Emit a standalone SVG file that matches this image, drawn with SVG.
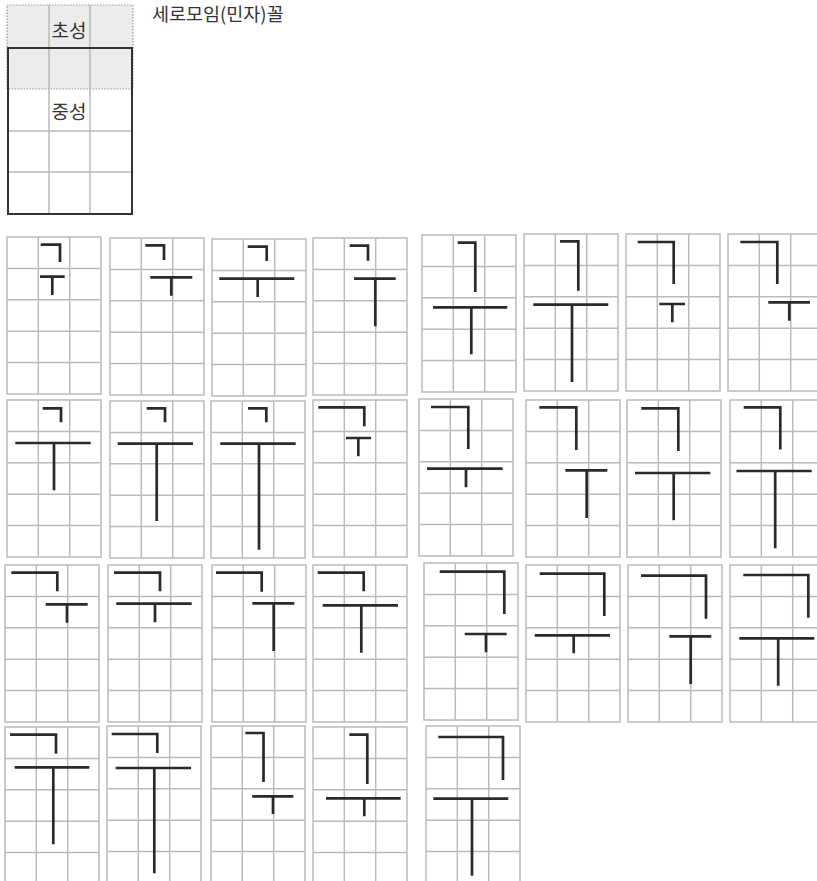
<svg xmlns="http://www.w3.org/2000/svg" xmlns:xlink="http://www.w3.org/1999/xlink" width="817" height="881" viewBox="0 0 817 881">
<style>
.txt{font-family:"Noto Sans CJK KR","Noto Sans",sans-serif;fill:#333;}
.gl{stroke:#bababa;stroke-width:1.5;fill:none;}
.st{stroke:#2a2a2a;stroke-width:2.7;fill:none;stroke-linecap:butt;stroke-linejoin:miter;}
</style>
<defs>
<g id="grid">
<rect x="0" y="0" width="94" height="157" fill="#fff" class="gl"/>
<path class="gl" d="M31.3,0V157M62.7,0V157M0,31.4H94M0,62.8H94M0,94.2H94M0,125.6H94"/>
</g>
</defs>
<rect width="817" height="881" fill="#fff"/>
<g id="legend">
<rect x="7" y="5" width="126" height="84" fill="#ececec"/>
<path class="gl" d="M49,5V214M90,5V214M8,48H132M8,131H132M8,172H132"/>
<rect x="7" y="5" width="126" height="84" fill="none" stroke="#999" stroke-width="1.2" stroke-dasharray="1.5,1.5"/>
<rect x="8" y="48" width="124" height="166" fill="none" stroke="#333" stroke-width="2"/>
<text class="txt" x="69" y="37.5" font-size="19" text-anchor="middle">초성</text>
<text class="txt" x="69" y="118.5" font-size="19" text-anchor="middle">중성</text>
</g>
<text id="title" class="txt" x="152" y="21" font-size="18.5">세로모임(민자)꼴</text>
<g id="grids">
<use xlink:href="#grid" x="7" y="237"/><use xlink:href="#grid" x="110" y="238"/><use xlink:href="#grid" x="212" y="239"/><use xlink:href="#grid" x="313" y="238"/>
<use xlink:href="#grid" x="422" y="235"/><use xlink:href="#grid" x="524" y="234"/><use xlink:href="#grid" x="626" y="234"/><use xlink:href="#grid" x="728" y="234"/>
<use xlink:href="#grid" x="7" y="400"/><use xlink:href="#grid" x="110" y="401"/><use xlink:href="#grid" x="211" y="401"/><use xlink:href="#grid" x="313" y="400"/>
<use xlink:href="#grid" x="419" y="399"/><use xlink:href="#grid" x="526" y="400"/><use xlink:href="#grid" x="627" y="400"/><use xlink:href="#grid" x="730" y="400"/>
<use xlink:href="#grid" x="5" y="565"/><use xlink:href="#grid" x="108" y="565"/><use xlink:href="#grid" x="212" y="565"/><use xlink:href="#grid" x="313" y="565"/>
<use xlink:href="#grid" x="424" y="563"/><use xlink:href="#grid" x="526" y="565"/><use xlink:href="#grid" x="628" y="565"/><use xlink:href="#grid" x="730" y="565"/>
<use xlink:href="#grid" x="5" y="727"/><use xlink:href="#grid" x="107" y="726"/><use xlink:href="#grid" x="211" y="726"/><use xlink:href="#grid" x="313" y="727"/><use xlink:href="#grid" x="426" y="726"/>
</g>
<g id="strokes">
<g id="r1c1"><path class="st" d="M40.7,244.7H60V262M40,276.7H64.7M52.3,276.7V295"/></g>
<g id="r1c2"><path class="st" d="M145.3,245.3H164V260M150.3,277.3H192.3M171.3,277.3V295.7"/></g>
<g id="r1c3"><path class="st" d="M247.7,246.7H266.7V261M219.3,278.7H294.3M257.7,278.7V297"/></g>
<g id="r1c4"><path class="st" d="M349.7,245.7H368V260.7M354,278.7H395.7M375.3,278.7V326.3"/></g>
<g id="r1c5"><path class="st" d="M457.7,242.7H475.3V292M433,307.3H507.3M471.3,307.3V354.3"/></g>
<g id="r1c6"><path class="st" d="M560,241.3H578.3V290.7M533.3,304.7H608.3M572,304.7V382"/></g>
<g id="r1c7"><path class="st" d="M637.7,242H673.7V284M659.3,304H685M672.3,304V322.3"/></g>
<g id="r1c8"><path class="st" d="M740.3,242H777.3V284M768.3,302.3H810M789.3,302.3V320.7"/></g>
<g id="r2c1"><path class="st" d="M42.7,408.3H61V422.3M15.3,443H90.7M54,443V490.3"/></g>
<g id="r2c2"><path class="st" d="M146.7,408.3H165V422.3M117.7,443.7H193M156.7,443.7V521"/></g>
<g id="r2c3"><path class="st" d="M248,408.3H266.3V422.3M220.3,443.7H295.7M259,443.7V549.7"/></g>
<g id="r2c4"><path class="st" d="M318.3,407.3H364.3V426.3M346,438H371M358.3,438V456.3"/></g>
<g id="r2c5"><path class="st" d="M431,407H468.3V449M427,468.7H502.7M466,468.7V487.3"/></g>
<g id="r2c6"><path class="st" d="M539.3,407.3H576.3V450M565.3,470.3H607.3M586.7,470.3V518"/></g>
<g id="r2c7"><path class="st" d="M641.3,408.3H678.3V451M635,473H710.3M673.7,473V520.3"/></g>
<g id="r2c8"><path class="st" d="M743.7,407.3H780.3V449.5M736.5,471H811.7M775.2,471V548.3"/></g>
<g id="r3c1"><path class="st" d="M11.3,572.7H57.3V591.3M45.7,604.3H87.7M67,604.3V622.7"/></g>
<g id="r3c2"><path class="st" d="M114,572.7H160V591.3M116.3,603.7H191.7M155,603.7V622.3"/></g>
<g id="r3c3"><path class="st" d="M216,572.7H261.7V591.7M252.3,603.3H294.3M273.7,603.3V651"/></g>
<g id="r3c4"><path class="st" d="M317.7,572.7H363.7V591.3M322.7,605.3H398M361.3,605.3V652.7"/></g>
<g id="r3c5"><path class="st" d="M439.7,571.7H504.3V614M464.7,634H506.7M486,634V652.3"/></g>
<g id="r3c6"><path class="st" d="M539.7,573.7H604.3V616M534.7,635.3H610M573.7,635.3V653.3"/></g>
<g id="r3c7"><path class="st" d="M641,575.7H706V618.7M669.3,636.3H711.3M690.7,636.3V684"/></g>
<g id="r3c8"><path class="st" d="M743.3,575H808.3V617.7M739.3,638.3H814.3M778.2,638.3V685.7"/></g>
<g id="r4c1"><path class="st" d="M10,734.7H56V753.7M14.7,767.3H89.3M53.3,767.3V844.3"/></g>
<g id="r4c2"><path class="st" d="M111.7,734H157.3V753M115.7,768H191M154.3,768V873.3"/></g>
<g id="r4c3"><path class="st" d="M245.4,733H263.5V782M252.2,796.3H293.3M273,796.3V814"/></g>
<g id="r4c4"><path class="st" d="M349.3,734.7H367.3V784M326,798.3H400.7M364.3,798.3V816.3"/></g>
<g id="r4c5"><path class="st" d="M438.3,737H503V780M433.3,798.7H508.3M472,798.7V875.7"/></g>
</g>
</svg>
